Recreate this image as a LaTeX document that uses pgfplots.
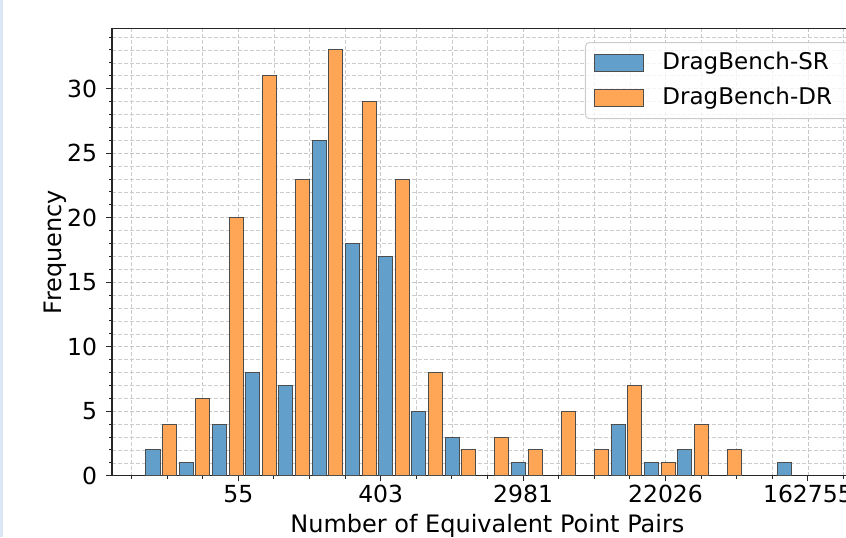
\documentclass[border=0pt]{standalone}
\usepackage{fontspec}
\setmainfont{DejaVu Sans}
\usepackage{pgfplots}
\pgfplotsset{compat=1.18}
\definecolor{sr}{RGB}{98,160,203}
\definecolor{dr}{RGB}{255,165,86}
\definecolor{edge}{RGB}{77,77,77}
\definecolor{strip}{RGB}{221,230,246}
\begin{document}
\begin{tikzpicture}
\begin{axis}[
  at={(0,0)}, anchor=south west,
  x=35.6pt, y=6.45pt,
  xmin=2.226, xmax=12.77, ymin=0, ymax=34.68,
  axis line style={black!85, line width=0.6pt},
  tick pos=left, tick align=outside,
  xtick={4,6,8,10,12}, xticklabels={55,403,2981,22026,162755},
  minor xtick={2.5,3,...,12.5},
  ytick={0,5,...,30},
  minor ytick={1,...,34},
  major tick length=2.8pt, minor tick length=1.6pt,
  tick style={black!85, line width=0.5pt},
  grid=both,
  major grid style={dash pattern=on 2pt off 1pt, gray!45, line width=0.35pt},
  minor grid style={dash pattern=on 2pt off 1pt, gray!40, line width=0.3pt},
  /pgf/number format/assume math mode=true,
  ticklabel style={font=\fontsize{11.75}{14}\selectfont},
  xticklabel style={anchor=north, inner sep=0pt, yshift=-1.8pt},
  yticklabel style={anchor=east, inner sep=0pt, xshift=-4.5pt},
  xlabel={Number of Equivalent Point Pairs},
  ylabel={Frequency},
  every axis x label/.style={at={(axis description cs:0.5,0)}, yshift=-28.5pt, anchor=base, font=\fontsize{12}{14}\selectfont},
  every axis y label/.style={at={(axis description cs:0,0.5)}, xshift=-25pt, rotate=90, anchor=base, font=\fontsize{12}{14}\selectfont},
  legend cell align=left,
  legend style={
    at={(0.630,0.9694)}, anchor=north west,
    draw=black!20, line width=0.5pt, rounded corners=2pt,
    fill=white, fill opacity=0.8, text opacity=1,
    inner xsep=4.5pt, inner ysep=4.7pt,
    row sep=6.3pt,
    font=\fontsize{11.5}{13}\selectfont,
    nodes={inner ysep=0pt, inner xsep=9pt, text height=8.6pt, text depth=2.6pt},
  },
]
\addplot[ybar, bar width=0.197, bar shift=0pt, fill=sr, draw=edge, line width=0.5pt,
  legend image code/.code={\draw[sharp corners, fill=sr, draw=edge, line width=0.5pt, fill opacity=1] (0pt,-4.25pt) rectangle (24.5pt,4.25pt);}]
  coordinates {
  (2.802,2) (3.269,1) (3.736,4) (4.202,8) (4.669,7) (5.136,26) (5.603,18)
  (6.070,17) (6.536,5) (7.003,3) (7.937,1) (9.337,4) (9.804,1) (10.271,2) (11.671,1)
  };
\addlegendentry{DragBench-SR}
\addplot[ybar, bar width=0.197, bar shift=0pt, fill=dr, draw=edge, line width=0.5pt,
  legend image code/.code={\draw[sharp corners, fill=dr, draw=edge, line width=0.5pt, fill opacity=1] (0pt,-4.25pt) rectangle (24.5pt,4.25pt);}]
  coordinates {
  (3.035,4) (3.502,6) (3.969,20) (4.436,31) (4.903,23) (5.369,33) (5.836,29)
  (6.303,23) (6.770,8) (7.237,2) (7.703,3) (8.170,2) (8.637,5) (9.104,2)
  (9.571,7) (10.037,1) (10.504,4) (10.971,2)
  };
\addlegendentry{DragBench-DR}
\end{axis}
\pgfresetboundingbox
\useasboundingbox (-56pt,-30.65pt) rectangle (367pt,237.85pt);
\fill[strip] (-56pt,-30.65pt) rectangle (-54.25pt,237.85pt);
\end{tikzpicture}
\end{document}
